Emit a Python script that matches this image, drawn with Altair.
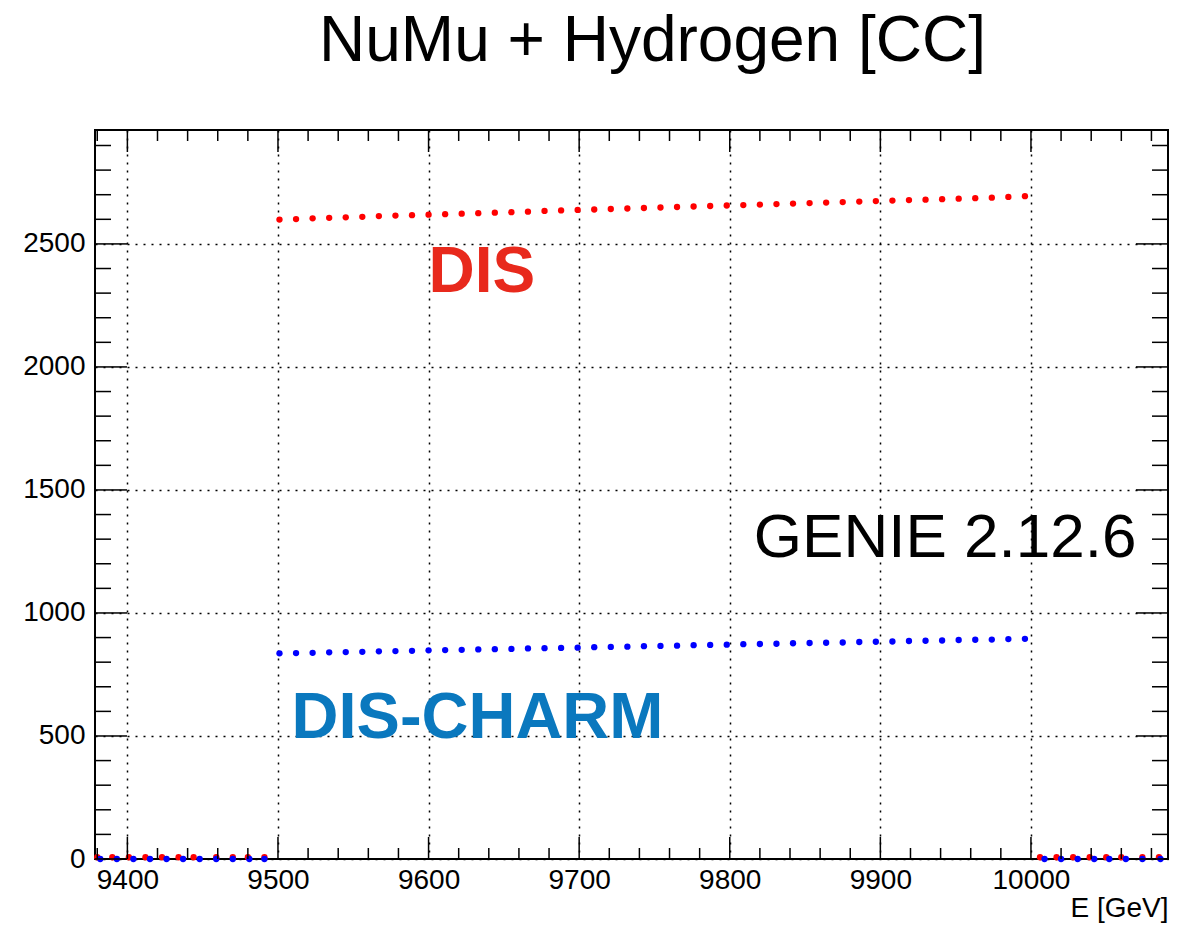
import altair as alt
import pandas as pd

# ---------------- data ----------------
dis_E_left = [9380, 9390, 9401, 9412, 9423, 9434, 9444, 9459, 9470, 9480, 9491]
dis_val_left = [7, 7, 7, 7, 7, 7, 7, 7, 7, 7, 7]
charm_E_left = [9382, 9393, 9404, 9415, 9426, 9437, 9448, 9459, 9470, 9481, 9491]
charm_val_left = [0, 0, 0, 0, 0, 0, 0, 0, 0, 0, 0]

main_E = [9501, 9512, 9523, 9534, 9545, 9556, 9567, 9578, 9589, 9600,
          9611, 9622, 9633, 9644, 9655, 9666, 9677, 9688, 9699, 9710,
          9721, 9732, 9743, 9754, 9765, 9776, 9787, 9798, 9809, 9820,
          9831, 9842, 9853, 9864, 9875, 9886, 9897, 9908, 9919, 9930,
          9941, 9952, 9963, 9974, 9985, 9996]
dis_val = [2599, 2601, 2604, 2606, 2608, 2610, 2613, 2615, 2617, 2619,
           2621, 2623, 2625, 2627, 2629, 2631, 2634, 2636, 2638, 2640,
           2642, 2644, 2646, 2648, 2650, 2652, 2654, 2656, 2658, 2660,
           2662, 2664, 2666, 2668, 2670, 2672, 2674, 2676, 2678, 2680,
           2682, 2684, 2686, 2688, 2691, 2694]
charm_val = [836, 837, 838, 840, 841, 842, 844, 845, 846, 848,
             849, 850, 852, 853, 854, 856, 857, 858, 859, 861,
             862, 863, 865, 866, 867, 869, 870, 871, 873, 874,
             875, 877, 878, 879, 880, 882, 883, 884, 886, 887,
             888, 890, 891, 892, 894, 895]

dis_E_right = [10006, 10017, 10028, 10039, 10050, 10060, 10074, 10085]
dis_val_right = [7, 7, 7, 7, 7, 7, 7, 7]
charm_E_right = [10009, 10020, 10031, 10042, 10052, 10063, 10074, 10086]
charm_val_right = [0, 0, 0, 0, 0, 0, 0, 0]

series_names = ["DIS", "DIS-CHARM"]
series_colors = ["#ff0000", "#0000ff"]

x_major = [9400, 9500, 9600, 9700, 9800, 9900, 10000]
x_minor = [9380, 9420, 9440, 9460, 9480, 9520, 9540, 9560, 9580, 9620, 9640,
           9660, 9680, 9720, 9740, 9760, 9780, 9820, 9840, 9860, 9880, 9920,
           9940, 9960, 9980, 10020, 10040, 10060, 10080]
y_major = [0, 500, 1000, 1500, 2000, 2500]
y_minor = [100, 200, 300, 400, 600, 700, 800, 900, 1100, 1200, 1300, 1400,
           1600, 1700, 1800, 1900, 2100, 2200, 2300, 2400, 2600, 2700, 2800, 2900]

x_domain = [9378.5, 10091]
y_domain = [0, 2963]

title_text = "NuMu + Hydrogen [CC]"
x_title = "E [GeV]"
ann_dis = {"E": [9600], "v": [2305], "t": ["DIS"]}
ann_charm = {"E": [9509], "v": [492], "t": ["DIS-CHARM"]}
ann_genie = {"E": [10070], "v": [1228], "t": ["GENIE 2.12.6"]}

# ---------------- build ----------------
W, H = 1073, 729
FONT = "Liberation Sans"

rows = []
for e, v in zip(dis_E_left + main_E + dis_E_right, dis_val_left + dis_val + dis_val_right):
    rows.append({"E": e, "v": v, "s": "DIS", "o": 0})
for e, v in zip(charm_E_left + main_E + charm_E_right, charm_val_left + charm_val + charm_val_right):
    rows.append({"E": e, "v": v, "s": "DIS-CHARM", "o": 1})
pts = pd.DataFrame(rows)

xs = alt.Scale(domain=x_domain, nice=False, zero=False)
ys = alt.Scale(domain=y_domain, nice=False, zero=False)

x_axis = alt.Axis(
    values=x_major, format="d", grid=True, gridColor="black", gridDash=[2, 6],
    gridWidth=1.5, gridOpacity=1, ticks=False, domain=False,
    labelFontSize=28, labelFont=FONT, labelColor="black", labelPadding=7,
    labelOverlap=False, labelFlush=False,
    title=x_title, titleFontSize=28, titleFont=FONT, titleFontWeight="normal",
    titleColor="black", titleAnchor="end", titleAlign="right",
    titleX=W, titleY=57, titleBaseline="alphabetic")
y_axis = alt.Axis(
    values=y_major, format="d", grid=True, gridColor="black", gridDash=[2, 6],
    gridWidth=1.5, gridOpacity=1, ticks=False, domain=False,
    labelFontSize=28, labelFont=FONT, labelColor="black", labelPadding=10,
    labelOverlap=False, labelFlush=False, title=None)


def X(field):
    return alt.X(field, scale=xs, axis=x_axis)


def Y(field):
    return alt.Y(field, scale=ys, axis=y_axis)


points = alt.Chart(pts).mark_circle(size=40, opacity=1).encode(
    x=X("E:Q"),
    y=Y("v:Q"),
    color=alt.Color("s:N", scale=alt.Scale(domain=series_names, range=series_colors), legend=None),
    order=alt.Order("o:Q"),
)


def xticks(vals, length, top):
    df = pd.DataFrame({"E": vals})
    if top:
        yy = dict(y=alt.value(0), y2=alt.value(length))
    else:
        yy = dict(y=alt.value(H), y2=alt.value(H - length))
    return alt.Chart(df).mark_rule(color="black", strokeWidth=1.5).encode(
        x=X("E:Q"), **yy)


def yticks(vals, length, right):
    df = pd.DataFrame({"v": vals})
    if right:
        xx = dict(x=alt.value(W), x2=alt.value(W - length))
    else:
        xx = dict(x=alt.value(0), x2=alt.value(length))
    return alt.Chart(df).mark_rule(color="black", strokeWidth=1.5).encode(
        y=Y("v:Q"), **xx)


ticks = [
    xticks(x_major, 22, False), xticks(x_minor, 11, False),
    xticks(x_major, 22, True), xticks(x_minor, 11, True),
    yticks(y_major, 32, False), yticks(y_minor, 16, False),
    yticks(y_major, 32, True), yticks(y_minor, 16, True),
]


def ann(d, color, weight, align, size):
    return alt.Chart(pd.DataFrame(d)).mark_text(
        font=FONT, fontSize=size, fontWeight=weight, color=color,
        align=align, baseline="alphabetic").encode(
        x=X("E:Q"), y=Y("v:Q"), text="t:N")


texts = [
    ann(ann_dis, "#E8291C", "bold", "left", 64),
    ann(ann_charm, "#0A78BE", "bold", "left", 65),
    ann(ann_genie, "black", "normal", "right", 62),
]

chart = alt.layer(points, *ticks, *texts).properties(
    width=W, height=H,
    background="white",
    padding={"left": 87, "top": 122, "right": 10, "bottom": 66},
    autosize=alt.AutoSizeParams(type="none"),
    title=alt.TitleParams(title_text, font=FONT, fontSize=64, fontWeight="normal",
                          color="black", anchor="middle", baseline="alphabetic",
                          offset=4, dx=21),
).configure_view(stroke="black", strokeWidth=2)

chart.save("out.html", embed_options={"renderer": "svg", "actions": False})
